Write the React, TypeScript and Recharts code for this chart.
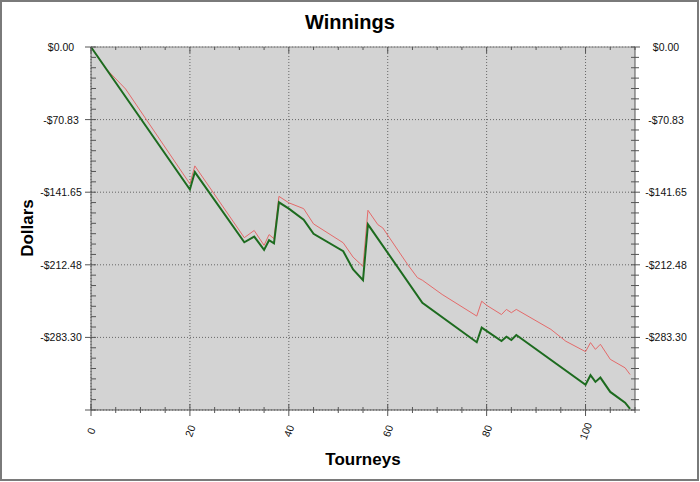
import React from "react";
import { LineChart, Line, XAxis, YAxis, CartesianGrid } from "recharts";

// tourney number and cumulative winnings at each break in the line
const greenTourneys = [0, 20, 21, 31, 33, 35, 36, 37, 38, 40, 43, 45, 51, 53, 55, 56, 67, 78, 79, 83, 84, 85, 86, 100, 101, 102, 103, 105, 108, 109];
const greenDollars = [0, -139, -122, -190.5, -185, -198, -188.5, -191.5, -151.5, -157.7, -168.4, -182.3, -199.2, -217, -227.5, -173, -249.5, -288, -273.8, -286.8, -282.6, -285.8, -281, -329.5, -320.2, -326.7, -322.5, -336.5, -347, -353];

const redTourneys = [0, 3, 6, 7, 20, 21, 31, 33, 35, 36, 37, 38, 40, 43, 45, 51, 53, 55, 56, 58, 59, 64, 66, 67, 71, 78, 79, 80, 83, 84, 85, 86, 93, 96, 100, 101, 102, 103, 105, 108, 109];
const redDollars = [0, -21, -36, -41, -133.5, -116, -186, -179, -193.5, -183, -187, -145.7, -152, -157.7, -172.6, -191, -205, -214, -159.3, -173.3, -176.5, -212, -225, -227.5, -241.4, -262.5, -248, -252, -261, -256, -259.2, -256, -275.5, -287, -297.2, -288.4, -295, -290, -304.7, -313, -319.5];

const xMajorTicks = [0, 20, 40, 60, 80, 100];
const yMajorTicks = [0, -70.83, -141.65, -212.48, -283.3, -354.13];
const yMajorLabels = ["$0.00", "-$70.83", "-$141.65", "-$212.48", "-$283.30"];

const X_MAX = 110;
const Y_MIN = -354.13;

const xAllTicks = Array.from({ length: X_MAX / 5 + 1 }, (_, i) => i * 5);
const yAllTicks = Array.from({ length: 36 }, (_, i) => (Y_MIN * i) / 35);

const greenData = greenTourneys.map((t, i) => ({ tourney: t, dollars: greenDollars[i] }));
const redData = redTourneys.map((t, i) => ({ tourney: t, dollars: redDollars[i] }));

const FONT = "'Liberation Sans', Arial, sans-serif";
const AXIS = "#555";

const LeftTick = (props: any) => {
  const { x, y, index } = props;
  const major = index % 7 === 0;
  return (
    <g>
      <line x1={major ? x - 6 : x} x2={x + 5} y1={y} y2={y} stroke={AXIS} />
      {major && index < 35 && (
        <text x={x - 30} y={y} textAnchor="middle" dominantBaseline="central" fontSize={10.5} fontFamily={FONT} fill="#111">
          {yMajorLabels[index / 7]}
        </text>
      )}
    </g>
  );
};

const RightTick = (props: any) => {
  const { x, y, index } = props;
  const major = index % 7 === 0;
  return (
    <g>
      <line x1={x - 4} x2={major ? x + 5 : x + 4} y1={y} y2={y} stroke={AXIS} />
      {major && index < 35 && (
        <text x={x + 31} y={y} textAnchor="middle" dominantBaseline="central" fontSize={10.5} fontFamily={FONT} fill="#111">
          {yMajorLabels[index / 7]}
        </text>
      )}
    </g>
  );
};

const BottomTick = (props: any) => {
  const { x, y, payload } = props;
  const major = payload.value % 20 === 0;
  return (
    <g>
      <line x1={x} x2={x} y1={major ? y - 6 : y - 3} y2={major ? y + 6 : y + 3} stroke={AXIS} />
      {major && (
        <text
          transform={`translate(${x},${y + 21}) rotate(-70)`}
          textAnchor="middle"
          dominantBaseline="central"
          fontSize={10.5}
          fontFamily={FONT}
          fill="#111"
        >
          {payload.value}
        </text>
      )}
    </g>
  );
};

const TopTick = (props: any) => {
  const { x, y, payload } = props;
  const major = payload.value % 20 === 0;
  return <line x1={x} x2={x} y1={y} y2={y + (major ? 6 : 3)} stroke={AXIS} />;
};

export default function App() {
  return (
    <div style={{ position: "absolute", left: 0, top: 0, width: 700, height: 482, background: "#fff" }}>
      <LineChart width={700} height={482} margin={{ top: 41, right: 0, bottom: 0, left: 0 }}>
        <CartesianGrid
          xAxisId="x"
          yAxisId="left"
          verticalValues={xMajorTicks}
          horizontalValues={yMajorTicks}
          fill="#d3d3d3"
          fillOpacity={1}
          stroke="#666"
          strokeDasharray="1 2"
        />
        <XAxis
          xAxisId="x"
          type="number"
          dataKey="tourney"
          domain={[0, X_MAX]}
          ticks={xAllTicks}
          interval={0}
          height={72}
          tickSize={0}
          tickMargin={0}
          tickLine={false}
          axisLine={{ stroke: AXIS }}
          tick={<BottomTick />}
        />
        <XAxis
          xAxisId="top"
          orientation="top"
          type="number"
          dataKey="tourney"
          domain={[0, X_MAX]}
          ticks={xAllTicks}
          interval={0}
          height={6}
          tickSize={0}
          tickMargin={0}
          tickLine={false}
          axisLine={{ stroke: "#888" }}
          tick={<TopTick />}
        />
        <YAxis
          yAxisId="left"
          type="number"
          domain={[Y_MIN, 0]}
          ticks={yAllTicks}
          interval={0}
          width={91}
          tickSize={0}
          tickMargin={0}
          tickLine={false}
          axisLine={{ stroke: AXIS }}
          tick={<LeftTick />}
        />
        <YAxis
          yAxisId="right"
          orientation="right"
          type="number"
          domain={[Y_MIN, 0]}
          ticks={yAllTicks}
          interval={0}
          width={65}
          tickSize={0}
          tickMargin={0}
          tickLine={false}
          axisLine={{ stroke: AXIS }}
          tick={<RightTick />}
        />
        {/* invisible copy so the top and right axes have a series bound to them */}
        <Line
          xAxisId="top"
          yAxisId="right"
          data={greenData}
          dataKey="dollars"
          stroke="none"
          dot={false}
          isAnimationActive={false}
        />
        <Line
          xAxisId="x"
          yAxisId="left"
          data={redData}
          dataKey="dollars"
          stroke="#e46a6a"
          strokeWidth={1}
          dot={false}
          isAnimationActive={false}
        />
        <Line
          xAxisId="x"
          yAxisId="left"
          data={greenData}
          dataKey="dollars"
          stroke="#1d6b1f"
          strokeWidth={2}
          dot={false}
          isAnimationActive={false}
        />
      </LineChart>
      <svg width={700} height={482} style={{ position: "absolute", left: 0, top: 0, pointerEvents: "none" }}>
        <rect x={1} y={1} width={697} height={479} fill="none" stroke="#7a7a7a" strokeWidth={2} />
        <text x={350} y={29} textAnchor="middle" fontSize={20} fontWeight="bold" fontFamily={FONT} fill="#000">
          Winnings
        </text>
        <text transform="translate(33,228) rotate(-90)" textAnchor="middle" fontSize={17} fontWeight="bold" fontFamily={FONT} fill="#000">
          Dollars
        </text>
        <text x={363} y={465} textAnchor="middle" fontSize={17} fontWeight="bold" fontFamily={FONT} fill="#000">
          Tourneys
        </text>
      </svg>
    </div>
  );
}
